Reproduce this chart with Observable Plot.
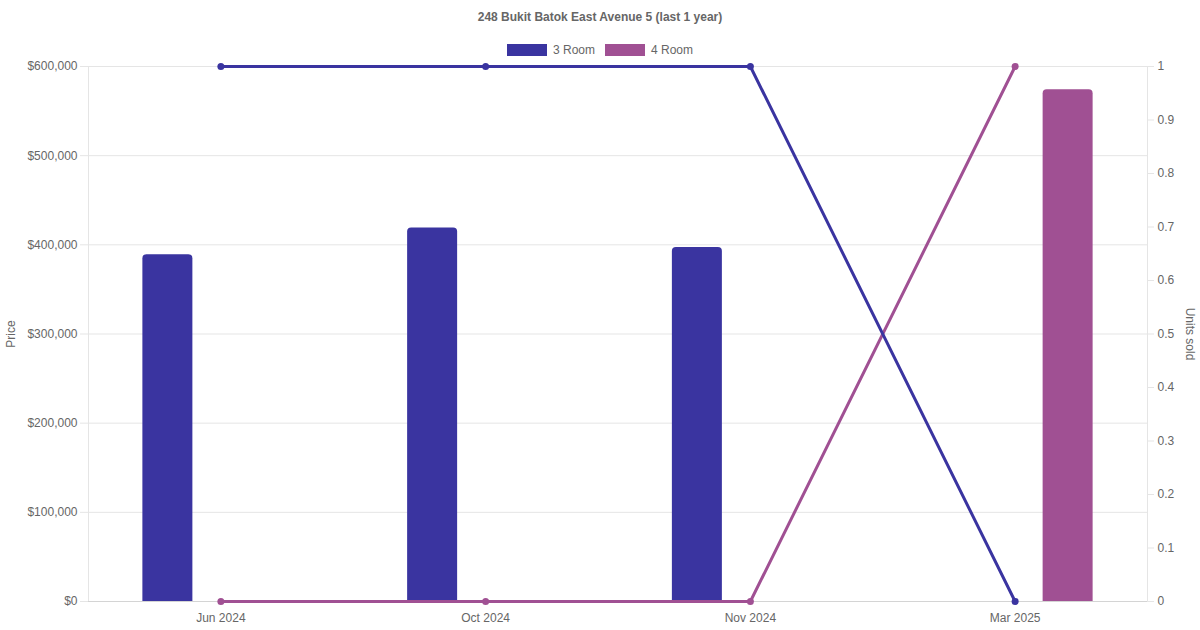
<!DOCTYPE html>
<html>
<head>
<meta charset="utf-8">
<script src="https://cdn.jsdelivr.net/npm/d3@7"></script>
<script src="https://cdn.jsdelivr.net/npm/@observablehq/plot@0.6"></script>
<style>
	body { margin: 0; background: #fff; font-family: "Liberation Sans", Arial, sans-serif; }
	#wrap { position: relative; width: 1200px; height: 630px; }
	#title { position: absolute; top: 10px; left: 0; width: 1200px; text-align: center; font-size: 12px; font-weight: bold; color: #666; }
	#legend { position: absolute; top: 43px; left: 0; width: 1200px; display: flex; justify-content: center; gap: 10px; font-size: 12px; color: #666; }
	.item { display: flex; align-items: center; gap: 6px; }
	.swatch { width: 40px; height: 12px; }
</style>
</head>
<body>
<div id="wrap">
	<div id="title">248 Bukit Batok East Avenue 5 (last 1 year)</div>
	<div id="legend"></div>
</div>
<script>
// data
const months = ['Jun 2024', 'Oct 2024', 'Nov 2024', 'Mar 2025'];
const rooms = ['3 Room', '4 Room'];
const colors = ['#3a34a0', '#a05093'];
const price3Room = [389000, 419000, 397000, null];
const price4Room = [null, null, null, 574000];
const units3Room = [1, 1, 1, 0];
const units4Room = [0, 0, 0, 1];
const priceTicks = [0, 100000, 200000, 300000, 400000, 500000, 600000];
const unitTicks = [0, 0.1, 0.2, 0.3, 0.4, 0.5, 0.6, 0.7, 0.8, 0.9, 1];

const maxPrice = 600000;
const prices = [price3Room, price4Room];
const units = [units3Room, units4Room];

// long tables
const bars = [];
const lines = [];
rooms.forEach((room, i) => {
	months.forEach((month, j) => {
		if (prices[i][j] != null) bars.push({month, room, price: prices[i][j]});
		lines.push({month, room, units: units[i][j]});
	});
});

// layout
const width = 1200, height = 630;
const margin = {top: 66, right: 53, bottom: 29, left: 88};
const band = (width - margin.left - margin.right) / months.length;
const barWidth = 50, barShift = 53;
const inset = (band - barWidth) / 2;

const color = {domain: rooms, range: colors};

const barMark = (room, shift) => Plot.barY(bars.filter(d => d.room === room), {
	x: 'month', y: 'price', fill: 'room',
	dx: shift, insetLeft: inset, insetRight: inset, ry1: 4
});

const lineMark = room => [
	Plot.line(lines.filter(d => d.room === room), {
		x: 'month', y: d => d.units * maxPrice, stroke: 'room', strokeWidth: 3
	}),
	Plot.dot(lines.filter(d => d.room === room), {
		x: 'month', y: d => d.units * maxPrice, fill: 'room', r: 3.5
	})
];

let fig = Plot.plot({
	width, height,
	marginTop: margin.top, marginRight: margin.right,
	marginBottom: margin.bottom, marginLeft: margin.left,
	style: {fontSize: '12px', fontFamily: '"Liberation Sans", Arial, sans-serif', color: '#666', background: '#fff'},
	x: {domain: months, padding: 0, round: false},
	y: {domain: [0, maxPrice]},
	color,
	marks: [
		Plot.gridY(priceTicks, {stroke: '#e5e5e5', strokeOpacity: 1}),
		Plot.frame({stroke: '#e5e5e5'}),
		Plot.axisY(priceTicks, {
			anchor: 'left', tickSize: 8, tickPadding: 3, stroke: '#e5e5e5', fill: '#666',
			tickFormat: d => '$' + d3.format(',')(d),
			label: 'Price', labelAnchor: 'center', labelOffset: 82, labelArrow: false
		}),
		Plot.axisY(unitTicks.map(u => u * maxPrice), {
			anchor: 'right', tickSize: 6, tickPadding: 4, stroke: '#e5e5e5', fill: '#666',
			tickFormat: d => String(+(d / maxPrice).toFixed(1)),
			label: null
		}),
		// right axis title reads top to bottom
		Plot.text(['Units sold'], {
			text: d => d, frameAnchor: 'right', rotate: 90, dx: 42,
			textAnchor: 'middle', lineAnchor: 'middle', fill: '#666'
		}),
		Plot.axisX({tickSize: 0, tickPadding: 12, fill: '#666', label: null}),
		Plot.ruleY([0], {stroke: '#d4d4d4'}),
		barMark('3 Room', -barShift),
		barMark('4 Room', barShift),
		...lineMark('4 Room'),
		...lineMark('3 Room')
	]
});

document.querySelector('#wrap').prepend(fig);

// legend
const legend = document.querySelector('#legend');
rooms.forEach((room, i) => {
	const item = document.createElement('div');
	item.className = 'item';
	item.innerHTML = `<span class="swatch" style="background:${colors[i]}"></span><span>${room}</span>`;
	legend.append(item);
});
</script>
</body>
</html>
